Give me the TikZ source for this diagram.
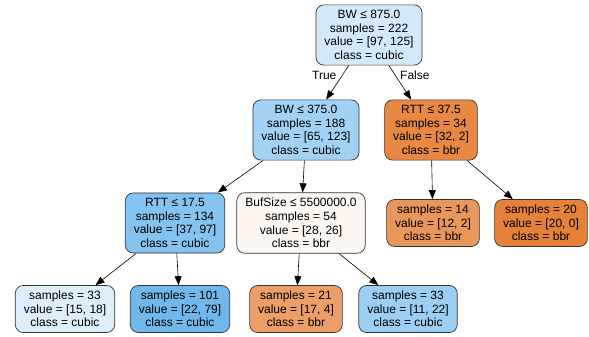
\documentclass[tikz,border=0pt]{standalone}
\usepackage{fontspec}
\setmainfont{Liberation Sans}
\usetikzlibrary{arrows.meta}

\definecolor{cubic}{HTML}{399DE5}
\definecolor{bbr}{HTML}{E58139}

\begin{document}
\begin{tikzpicture}[x=1pt,y=-1pt]
      \useasboundingbox (0,0) rectangle (589,337);
      \begin{scope}[every node/.style={rectangle,rounded corners=8pt,draw=black!80,line width=0.7pt,align=center,inner xsep=8.5pt,inner ysep=5.5pt,font=\fontsize{12}{13.6}\selectfont}]
        \node[fill=cubic!22] (0) at (369,35) {BW ≤ 875.0\\samples = 222\\value = [97, 125]\\class = cubic};
        \node[fill=cubic!47] (1) at (306,130) {BW ≤ 375.0\\samples = 188\\value = [65, 123]\\class = cubic};
        \node[fill=bbr!94] (2) at (431,130) {RTT ≤ 37.5\\samples = 34\\value = [32, 2]\\class = bbr};
        \node[fill=cubic!62] (3) at (175,223) {RTT ≤ 17.5\\samples = 134\\value = [37, 97]\\class = cubic};
        \node[fill=bbr!7] (4) at (301,223) {BufSize ≤ 5500000.0\\samples = 54\\value = [28, 26]\\class = bbr};
        \node[fill=bbr!83] (5) at (433,223) {samples = 14\\value = [12, 2]\\class = bbr};
        \node[fill=bbr] (6) at (541,223) {samples = 20\\value = [20, 0]\\class = bbr};
        \node[fill=cubic!17] (7) at (65,309) {samples = 33\\value = [15, 18]\\class = cubic};
        \node[fill=cubic!72] (8) at (180,309) {samples = 101\\value = [22, 79]\\class = cubic};
        \node[fill=bbr!77] (9) at (296,309) {samples = 21\\value = [17, 4]\\class = bbr};
        \node[fill=cubic!50] (10) at (408,309) {samples = 33\\value = [11, 22]\\class = cubic};
      \end{scope}
      \begin{scope}[every edge/.style={draw,line width=0.6pt,-{Triangle[length=9pt,width=7pt]}},
                    every node/.style={font=\fontsize{12}{13.6}\selectfont}]
        \path (0) edge node[pos=0.3,anchor=east,xshift=-2pt] (true) {True} (1);
        \path (0) edge node[pos=0.3,anchor=west,xshift=1pt] (false) {False} (2);
        \path (1) edge (3);
        \path (1) edge (4);
        \path (2) edge (5);
        \path (2) edge (6);
        \path (3) edge (7);
        \path (3) edge (8);
        \path (4) edge (9);
        \path (4) edge (10);
      \end{scope}
    \end{tikzpicture}
\end{document}
